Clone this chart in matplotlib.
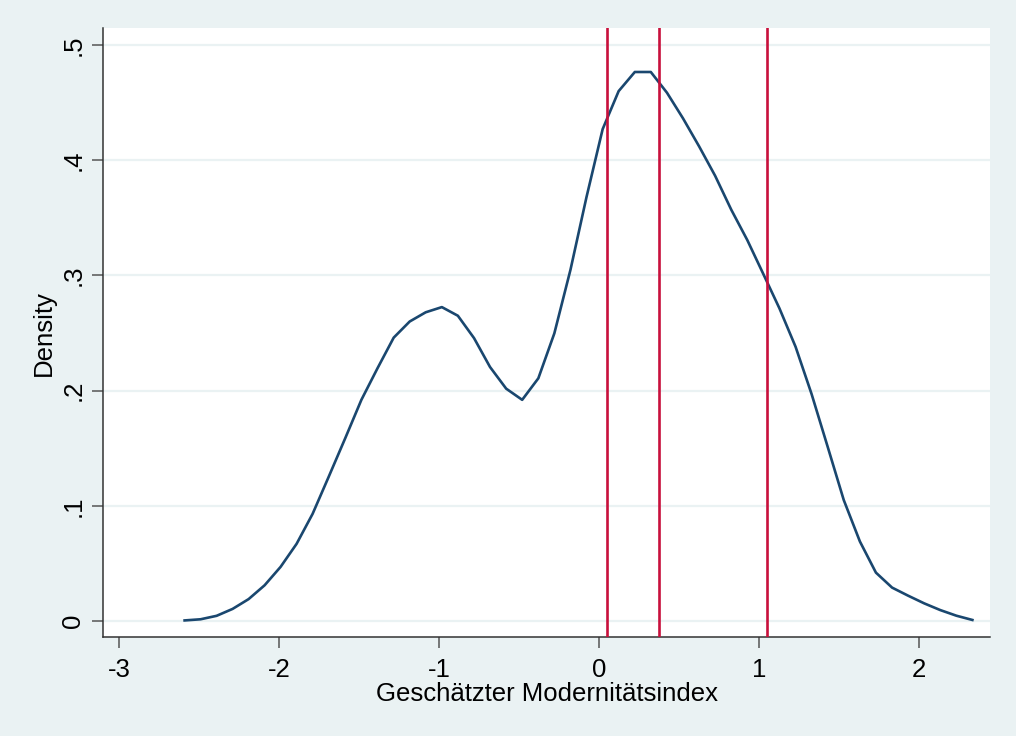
import matplotlib
matplotlib.use("Agg")
import matplotlib.pyplot as plt

# kernel density estimate of the estimated modernity index
x_grid = [-2.59, -2.49, -2.39, -2.29, -2.19, -2.09, -1.99, -1.89, -1.79, -1.69,
          -1.585, -1.485, -1.384, -1.283, -1.183, -1.083, -0.982, -0.882, -0.781, -0.681,
          -0.58, -0.48, -0.379, -0.279, -0.178, -0.078, 0.023, 0.123, 0.224, 0.324,
          0.425, 0.525, 0.626, 0.726, 0.827, 0.927, 1.028, 1.128, 1.229, 1.329,
          1.43, 1.53, 1.631, 1.731, 1.832, 1.932, 2.033, 2.133, 2.234, 2.334]
density = [0.0005, 0.0015, 0.0045, 0.0105, 0.019, 0.031, 0.047, 0.067, 0.093, 0.125,
           0.159, 0.192, 0.2195, 0.246, 0.260, 0.268, 0.2725, 0.265, 0.2456, 0.2205,
           0.2017, 0.192, 0.2107, 0.2497, 0.305, 0.368, 0.427, 0.460, 0.4766, 0.4766,
           0.4586, 0.4364, 0.412, 0.3865, 0.357, 0.3307, 0.301, 0.2714, 0.238, 0.197,
           0.151, 0.105, 0.069, 0.042, 0.029, 0.022, 0.0153, 0.0095, 0.0046, 0.0009]

# vertical reference lines
xlines = [0.05, 0.375, 1.052]

x_ticks = [-3, -2, -1, 0, 1, 2]
y_ticks = [0, 0.1, 0.2, 0.3, 0.4, 0.5]
y_ticklabels = ["0", ".1", ".2", ".3", ".4", ".5"]

bg = "#EAF2F3"
navy = "#1A476F"
red = "#C8103C"

plt.rcParams["font.family"] = ["Liberation Sans", "DejaVu Sans"]

fig = plt.figure(figsize=(10.16, 7.36), dpi=100)
fig.patch.set_facecolor(bg)
ax = fig.add_axes([0.1017, 0.1341, 0.9744 - 0.1017, 0.9615 - 0.1341])
ax.set_facecolor("white")

ax.set_xlim(-3.098, 2.444)
ax.set_ylim(-0.01415, 0.5145)

ax.set_yticks(y_ticks)
ax.set_yticklabels(y_ticklabels, rotation=90, va="center")
ax.set_xticks(x_ticks)
ax.set_xticklabels([str(t) for t in x_ticks])

ax.grid(axis="y", color=bg, linewidth=1.6)
ax.set_axisbelow(True)

ax.plot(x_grid, density, color=navy, linewidth=1.9, zorder=3)
for xv in xlines:
    ax.axvline(xv, color=red, linewidth=1.9, zorder=4)

for side in ("top", "right"):
    ax.spines[side].set_visible(False)
for side in ("left", "bottom"):
    ax.spines[side].set_color("#333333")
    ax.spines[side].set_linewidth(1.1)

ax.tick_params(axis="both", length=8, width=1.1, color="#555555",
               labelsize=18.5, labelcolor="black")
ax.tick_params(axis="x", pad=7)
ax.tick_params(axis="y", pad=5)

ax.set_xlabel("Geschätzter Modernitätsindex", fontsize=18.5, labelpad=0)
ax.set_ylabel("Density", fontsize=18.5, labelpad=4)

fig.savefig("out.png", dpi=100, facecolor=bg)
